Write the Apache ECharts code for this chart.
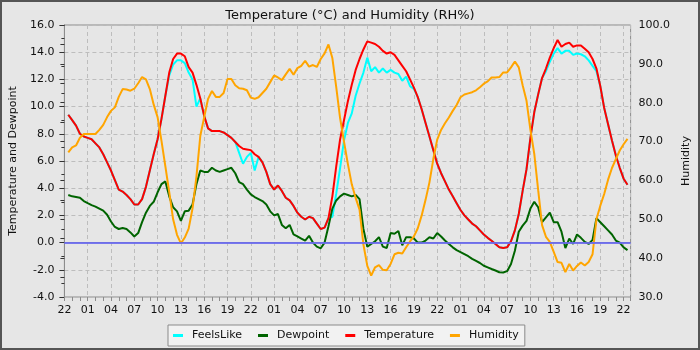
<!DOCTYPE html>
<html>
<head>
<meta charset="utf-8">
<title>Temperature and Humidity</title>
<script src="https://cdn.jsdelivr.net/npm/echarts@6/dist/echarts.min.js"></script>
<style>
  html, body { margin: 0; padding: 0; background: #e6e6e6; }
  #chart { width: 700px; height: 350px; }
</style>
</head>
<body>
<div id="chart"></div>
<script>
// Readings every half hour, starting half an hour after 22:00.
const firstReading = 0.5;   // hours after the first axis tick
const stepHours = 0.5;      // spacing between readings

// Clock labels for every third hour along the time axis
const tickLabels = ['22', '01', '04', '07', '10', '13', '16', '19',
                    '22', '01', '04', '07', '10', '13', '16', '19',
                    '22', '01', '04', '07', '10', '13', '16', '19', '22'];

// Air temperature (°C)
const temperature = [
  9.4, 9.0, 8.6, 8.0, 7.8, 7.7, 7.6, 7.3, 7.0, 6.5, 5.9, 5.3,
  4.6, 3.9, 3.75, 3.5, 3.2, 2.8, 2.8, 3.2, 4.1, 5.3, 6.5, 7.6,
  9.1, 10.8, 12.5, 13.5, 13.9, 13.9, 13.7, 12.9, 12.5, 11.6, 10.6, 9.3,
  8.4, 8.2, 8.2, 8.2, 8.1, 7.9, 7.7, 7.4, 7.1, 6.9, 6.85, 6.8,
  6.5, 6.3, 5.9, 5.2, 4.3, 3.9, 4.2, 3.8, 3.3, 3.1, 2.7, 2.2,
  1.9, 1.7, 1.9, 1.8, 1.4, 1.0, 1.1, 1.8, 3.4, 5.6, 7.6, 9.0,
  10.4, 11.6, 12.7, 13.5, 14.2, 14.8, 14.7, 14.6, 14.4, 14.1, 13.9, 14.0,
  13.8, 13.4, 13.0, 12.6, 12.0, 11.4, 10.7, 9.8, 8.8, 7.8, 6.8, 5.8,
  5.1, 4.5, 3.9, 3.4, 2.9, 2.4, 2.0, 1.7, 1.4, 1.2, 0.9, 0.6,
  0.35, 0.14, -0.1, -0.35, -0.4, -0.35, 0.1, 0.9, 2.1, 3.8, 5.4, 7.7,
  9.6, 10.9, 12.1, 12.8, 13.6, 14.3, 14.9, 14.4, 14.6, 14.7, 14.4, 14.5,
  14.5, 14.25, 14.0, 13.5, 12.8, 11.5, 9.9, 8.7, 7.5, 6.4, 5.5, 4.7,
  4.25
];

// Apparent temperature (°C)
const feelsLike = [
  9.4, 9.0, 8.6, 8.0, 7.8, 7.7, 7.6, 7.3, 7.0, 6.5, 5.9, 5.3,
  4.6, 3.9, 3.75, 3.5, 3.2, 2.8, 2.8, 3.2, 4.1, 5.3, 6.5, 7.6,
  9.1, 10.8, 12.3, 13.1, 13.4, 13.4, 13.2, 12.5, 12.0, 10.0, 10.6, 9.3,
  8.4, 8.2, 8.2, 8.2, 8.1, 7.9, 7.7, 7.4, 6.6, 5.8, 6.3, 6.6,
  5.3, 6.3, 5.9, 5.2, 4.3, 3.9, 4.2, 3.8, 3.3, 3.1, 2.7, 2.2,
  1.9, 1.7, 1.9, 1.8, 1.4, 1.0, 1.1, 1.8, 1.9, 3.6, 5.5, 7.5,
  8.8, 9.5, 10.8, 11.7, 12.5, 13.6, 12.6, 12.9, 12.5, 12.8, 12.5, 12.7,
  12.5, 12.4, 11.9, 12.2, 11.5, 11.3, 10.7, 9.8, 8.8, 7.8, 6.8, 5.8,
  5.1, 4.5, 3.9, 3.4, 2.9, 2.4, 2.0, 1.7, 1.4, 1.2, 0.9, 0.6,
  0.35, 0.14, -0.1, -0.35, -0.4, -0.35, 0.1, 0.9, 2.1, 3.8, 5.4, 7.7,
  9.6, 10.9, 12.1, 12.6, 13.3, 13.9, 14.3, 13.9, 14.1, 14.1, 13.8, 13.9,
  13.85, 13.7, 13.4, 13.0, 12.6, 11.5, 9.9, 8.7, 7.5, 6.4, 5.5, 4.7,
  4.25
];

// Dew point (°C)
const dewpoint = [
  3.5, 3.4, 3.35, 3.3, 3.05, 2.9, 2.76, 2.65, 2.5, 2.35, 2.05, 1.55,
  1.15, 1.0, 1.07, 1.0, 0.75, 0.45, 0.7, 1.5, 2.2, 2.7, 3.0, 3.7,
  4.3, 4.5, 3.4, 2.6, 2.3, 1.6, 2.3, 2.35, 2.8, 4.3, 5.3, 5.2,
  5.2, 5.5, 5.3, 5.2, 5.3, 5.4, 5.5, 5.1, 4.45, 4.3, 3.9, 3.55,
  3.35, 3.2, 3.05, 2.8, 2.3, 2.0, 2.1, 1.3, 1.05, 1.3, 0.6, 0.45,
  0.3, 0.14, 0.5, 0.0, -0.3, -0.42, 0.0, 1.2, 2.5, 3.1, 3.4, 3.6,
  3.5, 3.4, 3.5, 3.2, 1.0, -0.3, -0.1, 0.1, 0.4, -0.3, -0.4, 0.7,
  0.65, 0.85, -0.2, 0.4, 0.4, 0.3, 0.0, 0.0, 0.15, 0.39, 0.3, 0.7,
  0.45, 0.15, -0.1, -0.35, -0.55, -0.7, -0.85, -1.0, -1.2, -1.35, -1.5, -1.7,
  -1.82, -1.94, -2.05, -2.18, -2.2, -2.1, -1.57, -0.6, 0.8, 1.25, 1.6, 2.5,
  3.0, 2.6, 1.5, 1.85, 2.2, 1.5, 1.5, 0.8, -0.4, 0.3, -0.1, 0.6,
  0.35, 0.05, -0.1, 0.2, 1.8, 1.5, 1.2, 0.9, 0.6, 0.15, 0.0, -0.35,
  -0.55
];

// Relative humidity (%)
const humidity = [
  67.2, 68.5, 69.0, 71.0, 71.95, 71.95, 71.95, 71.95, 73.0, 74.3, 76.3, 77.9,
  78.8, 81.5, 83.5, 83.4, 83.1, 83.6, 85.0, 86.6, 86.0, 83.5, 79.5, 76.3,
  70.2, 63.6, 57.0, 50.0, 46.0, 43.8, 45.3, 47.6, 52.8, 61.0, 71.5, 76.3,
  81.0, 83.0, 81.5, 81.5, 82.5, 86.1, 86.1, 84.5, 83.7, 83.6, 83.2, 81.3,
  81.0, 81.4, 82.5, 83.6, 85.3, 87.0, 86.5, 85.8, 87.3, 88.7, 87.2, 88.9,
  89.5, 90.8, 89.3, 89.7, 89.2, 91.25, 92.7, 95.0, 91.5, 84.0, 76.0, 70.0,
  64.2, 59.0, 55.5, 52.5, 43.5, 38.0, 35.5, 37.65, 38.2, 37.0, 36.9, 38.5,
  41.0, 41.4, 41.2, 42.8, 44.3, 45.6, 47.7, 51.0, 55.0, 59.5, 65.5, 70.5,
  73.0, 74.7, 76.2, 77.9, 79.4, 81.4, 82.1, 82.4, 82.7, 83.2, 84.0, 84.9,
  85.5, 86.5, 86.5, 86.6, 87.8, 87.8, 89.1, 90.6, 89.1, 84.5, 80.5, 73.0,
  66.8, 57.5, 48.5, 45.5, 44.2, 41.6, 39.0, 38.8, 36.4, 38.5, 36.8, 38.0,
  38.9, 38.1, 39.0, 41.0, 50.0, 53.5, 56.5, 60.2, 63.2, 65.5, 67.7, 69.3,
  70.7
];

const axisEnd = 72.9;  // hours covered by the time axis
const font = 'DejaVu Sans';
const axisGray = '#8c8c8c';
const textColor = '#111';

function pairs(values) {
  return values.map((v, i) => [firstReading + i * stepHours, v]);
}

function lineSeries(name, color, values, yIndex, extra) {
  return Object.assign({
    name: name,
    type: 'line',
    xAxisIndex: 0,
    yAxisIndex: yIndex,
    data: pairs(values),
    showSymbol: false,
    symbol: 'none',
    lineStyle: { color: color, width: 2 },
    itemStyle: { color: color },
    animation: false
  }, extra || {});
}

const chart = echarts.init(document.getElementById('chart'), null, { renderer: 'canvas' });

chart.setOption({
  backgroundColor: '#e6e6e6',
  animation: false,
  textStyle: { fontFamily: font },
  title: {
    text: 'Temperature (°C) and Humidity (RH%)',
    left: 'center',
    top: 4,
    textStyle: { fontFamily: font, fontSize: 13, fontWeight: 'normal', color: textColor }
  },
  legend: {
    top: 325,
    left: 168,
    orient: 'horizontal',
    icon: 'rect',
    itemWidth: 10,
    itemHeight: 3,
    itemGap: 16,
    padding: [5, 6, 5, 5],
    backgroundColor: '#f2f2f2',
    borderColor: '#8a8a8a',
    borderWidth: 1,
    borderRadius: 0,
    textStyle: { fontFamily: font, fontSize: 11, color: textColor, padding: [0, 0, 0, 4] },
    data: ['FeelsLike', 'Dewpoint', 'Temperature', 'Humidity']
  },
  graphic: [{
    type: 'rect',
    silent: true,
    z: 100,
    shape: { x: 1, y: 1, width: 698, height: 348 },
    style: { fill: 'none', stroke: '#555', lineWidth: 2 }
  }],
  grid: {
    left: 55, right: 60, top: 25, bottom: 53,
    show: true,
    borderColor: axisGray,
    borderWidth: 1,
    backgroundColor: 'transparent',
    containLabel: false
  },
  xAxis: [{
    type: 'value',
    min: 0,
    max: axisEnd,
    interval: 3,
    axisLine: { show: true, lineStyle: { color: axisGray } },
    axisTick: { show: false },
    axisLabel: {
      margin: 8,
      fontFamily: font, fontSize: 11, color: textColor,
      showMaxLabel: false,
      formatter: v => (Math.abs(v % 3) < 1e-6 ? tickLabels[Math.round(v / 3)] : '')
    },
    splitLine: { show: true, lineStyle: { color: '#bdbdbd', type: [4, 3], width: 1 } }
  }, {
    // hourly tick marks along the bottom edge
    type: 'value',
    position: 'bottom',
    min: 0,
    max: axisEnd,
    interval: 1,
    axisLine: { show: false },
    axisTick: { show: true, length: 4, lineStyle: { color: axisGray } },
    axisLabel: { show: false },
    splitLine: { show: false }
  }],
  yAxis: [{
    type: 'value',
    position: 'left',
    min: -4,
    max: 16,
    interval: 2,
    name: 'Temperature and Dewpoint',
    nameLocation: 'middle',
    nameRotate: 90,
    nameGap: 31,
    nameTextStyle: { fontFamily: font, fontSize: 11, color: textColor },
    axisLine: { show: true, lineStyle: { color: axisGray } },
    axisTick: { show: true, length: 5, lineStyle: { color: '#333' } },
    minorTick: { show: true, splitNumber: 2, length: 3, lineStyle: { color: '#333' } },
    axisLabel: {
      margin: 10,
      fontFamily: font, fontSize: 11, color: textColor,
      formatter: v => v.toFixed(1)
    },
    splitLine: { show: true, lineStyle: { color: '#bdbdbd', type: [4, 3], width: 1 } }
  }, {
    type: 'value',
    position: 'right',
    min: 30,
    max: 100,
    interval: 10,
    name: 'Humidity',
    nameLocation: 'middle',
    nameRotate: 90,
    nameGap: 34,
    nameTextStyle: { fontFamily: font, fontSize: 11, color: textColor },
    axisLine: { show: true, lineStyle: { color: axisGray } },
    axisTick: { show: true, inside: true, length: 4, lineStyle: { color: '#333' } },
    minorTick: { show: true, splitNumber: 2, length: 4, lineStyle: { color: '#333' } },
    axisLabel: {
      margin: 8,
      fontFamily: font, fontSize: 11, color: textColor,
      formatter: v => v.toFixed(1)
    },
    splitLine: { show: false }
  }],
  series: [
    lineSeries('FeelsLike', '#00ffff', feelsLike, 0, {
      markLine: {
        silent: true,
        symbol: ['none', 'none'],
        label: { show: false },
        lineStyle: { color: '#6a6aee', width: 2, type: 'solid', opacity: 0.9 },
        data: [{ yAxis: 0 }],
        animation: false
      }
    }),
    lineSeries('Dewpoint', '#006400', dewpoint, 0),
    lineSeries('Temperature', '#ff0000', temperature, 0),
    lineSeries('Humidity', '#ffa500', humidity, 1)
  ]
});
</script>
</body>
</html>
